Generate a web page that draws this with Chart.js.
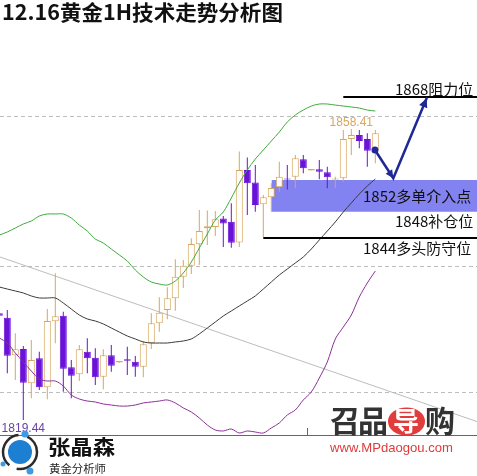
<!DOCTYPE html>
<html>
<head>
<meta charset="utf-8">
<script src="https://cdn.jsdelivr.net/npm/chart.js@4.4.0/dist/chart.umd.min.js"></script>
<style>
  body { margin: 0; background: #fff; }
  #wrap { position: relative; width: 477px; height: 476px; overflow: hidden; }
  #overlay { position: absolute; left: 0; top: 0; }
</style>
</head>
<body>
<div id="wrap">
  <canvas id="chart" width="477" height="476"></canvas>
  <svg id="overlay" width="477" height="476" xmlns="http://www.w3.org/2000/svg">
    <text x="2" y="20" font-family="Noto Sans CJK SC" font-weight="bold" font-size="21" fill="#111" textLength="281" lengthAdjust="spacingAndGlyphs">12.16黄金1H技术走势分析图</text>
    <!-- left logo -->
    <circle cx="20" cy="452" r="17" fill="none" stroke="#2b2b2b" stroke-width="2.5" stroke-dasharray="30 8 40 9"/>
    <circle cx="20" cy="452" r="12" fill="#1d7fd2"/>
    <circle cx="25" cy="434" r="3.5" fill="#3c9be4"/>
    <circle cx="30" cy="471" r="3.5" fill="#3c9be4"/>
    <circle cx="3" cy="464" r="2.5" fill="#3c9be4"/>
    <text x="48" y="455" font-family="Noto Sans CJK SC" font-weight="bold" font-size="20" fill="#111" textLength="67" lengthAdjust="spacingAndGlyphs">张晶森</text>
    <text x="49" y="473" font-family="Noto Sans CJK SC" font-size="11" fill="#222" textLength="57" lengthAdjust="spacingAndGlyphs">黄金分析师</text>
    <!-- right logo -->
    <ellipse cx="406.5" cy="421.5" rx="18.5" ry="14" fill="#e23b3b"/>
    <text x="330" y="432" font-family="Noto Sans CJK SC" font-weight="bold" font-size="30" fill="#333">召</text>
    <text x="358" y="432" font-family="Noto Sans CJK SC" font-weight="bold" font-size="30" fill="#333">品</text>
    <text x="393" y="431" font-family="Noto Sans CJK SC" font-weight="bold" font-size="26" fill="#fff">导</text>
    <text x="425" y="432" font-family="Noto Sans CJK SC" font-weight="bold" font-size="30" fill="#333">购</text>
    <text x="330" y="452" font-family="Liberation Sans, Arial" font-size="13" fill="#e03a3a" textLength="123" lengthAdjust="spacingAndGlyphs">www.MPdaogou.com</text>
  </svg>
</div>
<script>
// candle index (1 hour bars)
var idx = [0,1,2,3,4,5,6,7,8,9,10,11,12,13,14,15,16,17,18,19,20,21,22,23,24,25,26,27,28,29,30,31,32,33,34,35,36,37,38,39,40,41,42,43,44,45,46,47];

var opens  = [1833.73,1833.14,1828.10,1828.95,1824.35,1827.70,1823.82,1832.66,1833.41,1826.50,1825.56,1828.59,1827.78,1825.24,1828.10,1827.15,1827.57,1827.25,1826.58,1829.71,1832.39,1834.17,1835.74,1838.63,1840.10,1842.97,1845.11,1845.29,1846.42,1846.00,1843.21,1852.92,1851.25,1848.33,1849.26,1850.60,1851.78,1852.02,1854.35,1852.85,1853.01,1852.61,1851.65,1851.81,1857.07,1857.61,1857.07,1855.60];
var highs  = [1834.04,1834.17,1831.05,1829.35,1830.15,1828.59,1834.30,1839.09,1833.94,1827.47,1829.48,1830.38,1829.04,1828.91,1829.48,1827.35,1829.26,1828.01,1830.02,1833.73,1835.87,1837.21,1840.96,1840.87,1843.77,1847.56,1847.50,1847.43,1846.76,1848.46,1855.40,1854.59,1853.59,1849.57,1851.14,1854.03,1853.59,1854.93,1854.93,1853.05,1854.26,1853.36,1852.02,1858.28,1858.41,1858.28,1857.83,1858.28];
var lows   = [1833.10,1825.69,1824.80,1819.44,1822.35,1823.46,1822.21,1829.71,1823.23,1822.35,1824.66,1825.69,1824.13,1823.55,1825.91,1827.10,1825.47,1825.24,1825.16,1828.95,1831.26,1832.92,1834.08,1837.12,1838.99,1840.20,1842.88,1844.08,1842.61,1842.51,1842.61,1846.89,1847.33,1843.91,1847.33,1850.01,1850.31,1850.47,1852.48,1852.85,1851.67,1850.47,1850.55,1851.35,1854.93,1855.83,1853.36,1853.82];
var closes = [1833.41,1828.05,1828.91,1824.43,1827.47,1823.82,1832.70,1833.33,1826.31,1825.37,1828.91,1827.70,1825.16,1828.10,1826.71,1827.35,1827.38,1826.58,1829.58,1832.39,1833.81,1835.74,1838.63,1840.10,1843.01,1844.75,1845.38,1846.32,1845.75,1843.18,1852.92,1851.14,1848.23,1849.26,1850.51,1852.02,1851.65,1854.49,1853.15,1853.05,1852.69,1851.94,1851.78,1857.07,1857.61,1856.80,1855.50,1857.83];

// Bollinger bands
var bollUpper = [1844.21,1844.62,1845.15,1845.69,1846.09,1846.76,1847.03,1847.03,1847.03,1846.49,1845.55,1844.75,1843.68,1843.14,1842.34,1841.54,1840.73,1839.53,1838.59,1837.92,1837.65,1837.52,1838.05,1839.13,1840.60,1842.47,1844.35,1846.22,1847.30,1849.17,1851.18,1852.92,1854.39,1855.60,1856.80,1858.01,1859.35,1860.29,1860.95,1861.49,1861.76,1861.76,1861.62,1861.49,1861.36,1861.22,1860.95,1860.82];
var bollMid   = [1837.25,1836.98,1836.72,1836.45,1836.05,1835.78,1835.78,1835.78,1835.11,1834.30,1833.50,1832.97,1832.70,1832.30,1831.76,1831.22,1830.69,1830.29,1829.89,1829.75,1829.75,1829.75,1829.89,1830.02,1830.29,1830.96,1831.76,1832.56,1833.37,1834.04,1834.71,1835.38,1836.05,1836.98,1837.92,1838.86,1839.66,1840.47,1841.27,1842.34,1843.55,1844.75,1845.96,1847.30,1848.50,1849.71,1850.78,1851.71];
var bollLower = [1830.42,1829.75,1828.41,1827.21,1826.00,1824.93,1824.66,1824.66,1823.99,1822.79,1822.25,1821.98,1821.85,1821.58,1821.45,1821.31,1821.31,1821.45,1821.72,1821.85,1821.98,1822.12,1821.72,1821.05,1820.51,1819.71,1818.77,1818.10,1817.97,1818.23,1817.70,1817.97,1817.83,1817.70,1818.37,1819.04,1820.11,1820.78,1822.12,1823.19,1825.06,1827.21,1830.29,1831.89,1833.50,1835.91,1837.79,1839.39];

// drawn trend line (index, price)
var trendLine = [{x: 0.0875, y: 1841.27}, {x: 59.71, y: 1819.23}];

// analyst's marks
var refLevels = [1860.15, 1840.06, 1823.19];
var levelLines = [{from: 43, price: 1862.65}, {from: 33, price: 1843.80}];
var zone = {from: 34.05, top: 1851.58, bottom: 1847.33};
var levelLabels = [
  {text: '1868阻力位', x: 49.46, price: 1862.90},
  {text: '1852多单介入点', x: 45.46, price: 1848.57},
  {text: '1848补仓位', x: 49.46, price: 1845.35},
  {text: '1844多头防守位', x: 45.46, price: 1841.67}
];
var arrowPath = [{x: 46.96, y: 1855.60}, {x: 49.25, y: 1851.81}, {x: 53.42, y: 1862.52}];

var upColor = '#d6a65c';
var downColor = '#6a12d8';

function isUp(i){ return closes[i] >= opens[i]; }

function arrowHead(ctx, x0, y0, x1, y1, size){
  var ang = Math.atan2(y1 - y0, x1 - x0);
  ctx.beginPath();
  ctx.moveTo(x1, y1);
  ctx.lineTo(x1 - size*Math.cos(ang - 0.45), y1 - size*Math.sin(ang - 0.45));
  ctx.lineTo(x1 - size*Math.cos(ang + 0.45), y1 - size*Math.sin(ang + 0.45));
  ctx.closePath();
  ctx.fill();
}

var annotate = {
  id: 'annotate',
  beforeDatasetsDraw: function(chart){
    var ctx = chart.ctx, a = chart.chartArea, x = chart.scales.x, y = chart.scales.y;
    ctx.save();
    ctx.strokeStyle = '#bdbdbd';
    ctx.lineWidth = 1;
    ctx.setLineDash([4, 3]);
    refLevels.forEach(function(p){
      var py = Math.round(y.getPixelForValue(p)) + 0.5;
      ctx.beginPath(); ctx.moveTo(a.left, py); ctx.lineTo(a.right, py); ctx.stroke();
    });
    ctx.setLineDash([]);
    ctx.fillStyle = '#8282f0';
    var zx = x.getPixelForValue(zone.from);
    var zt = y.getPixelForValue(zone.top), zb = y.getPixelForValue(zone.bottom);
    ctx.fillRect(zx, zt, a.right - zx, zb - zt);
    ctx.restore();
  },
  afterDatasetsDraw: function(chart){
    var ctx = chart.ctx, a = chart.chartArea, x = chart.scales.x, y = chart.scales.y;
    ctx.save();
    // bottom axis
    ctx.strokeStyle = '#666';
    ctx.lineWidth = 1;
    ctx.beginPath(); ctx.moveTo(a.left, a.bottom + 0.5); ctx.lineTo(a.right, a.bottom + 0.5); ctx.stroke();
    var tx = Math.round(x.getPixelForValue(38.46)) + 0.5;
    ctx.beginPath(); ctx.moveTo(tx, a.bottom - 7); ctx.lineTo(tx, a.bottom); ctx.stroke();

    // level lines
    ctx.strokeStyle = '#000';
    ctx.lineWidth = 2;
    levelLines.forEach(function(l){
      var py = Math.round(y.getPixelForValue(l.price));
      ctx.beginPath(); ctx.moveTo(x.getPixelForValue(l.from), py); ctx.lineTo(a.right, py); ctx.stroke();
    });

    // labels
    ctx.fillStyle = '#111';
    ctx.font = '15px "Noto Sans CJK SC"';
    ctx.textBaseline = 'alphabetic';
    ctx.textAlign = 'left';
    levelLabels.forEach(function(l){
      ctx.fillText(l.text, x.getPixelForValue(l.x), y.getPixelForValue(l.price));
    });

    // high / low marks
    var hi = 0, lo = 0;
    idx.forEach(function(i){ if (highs[i] > highs[hi]) hi = i; if (lows[i] < lows[lo]) lo = i; });
    ctx.font = '12px "Liberation Sans", Arial';
    ctx.textAlign = 'center';
    ctx.fillStyle = '#dba55a';
    ctx.fillText(highs[hi].toFixed(2), x.getPixelForValue(hi), y.getPixelForValue(highs[hi]) - 3.5);
    ctx.fillStyle = '#6a40a8';
    ctx.fillText(lows[lo].toFixed(2), Math.max(23, x.getPixelForValue(lo)), y.getPixelForValue(lows[lo]) + 12.5);

    // forecast arrows
    var pts = arrowPath.map(function(p){ return {x: x.getPixelForValue(p.x), y: y.getPixelForValue(p.y)}; });
    ctx.strokeStyle = '#1e2896';
    ctx.fillStyle = '#1e2896';
    ctx.lineWidth = 2.5;
    ctx.lineCap = 'round';
    ctx.beginPath();
    ctx.moveTo(pts[0].x, pts[0].y);
    for (var k = 1; k < pts.length; k++) ctx.lineTo(pts[k].x, pts[k].y);
    ctx.stroke();
    ctx.beginPath(); ctx.arc(pts[0].x, pts[0].y, 3.5, 0, Math.PI*2); ctx.fill();
    arrowHead(ctx, pts[0].x, pts[0].y, pts[1].x, pts[1].y, 9);
    arrowHead(ctx, pts[1].x, pts[1].y, pts[2].x, pts[2].y, 10);
    ctx.restore();
  }
};

var ctx = document.getElementById('chart').getContext('2d');
var chart = new Chart(ctx, {
  type: 'bar',
  data: {
    datasets: [
      {
        type: 'line', data: idx.map(function(i){ return {x: i, y: bollUpper[i]}; }),
        borderColor: '#3fa83f', borderWidth: 1, pointRadius: 0, tension: 0.3, order: 1
      },
      {
        type: 'line', data: idx.map(function(i){ return {x: i, y: bollMid[i]}; }),
        borderColor: '#3a3a3a', borderWidth: 1, pointRadius: 0, tension: 0.3, order: 2
      },
      {
        type: 'line', data: idx.map(function(i){ return {x: i, y: bollLower[i]}; }),
        borderColor: '#8a3096', borderWidth: 1, pointRadius: 0, tension: 0.3, order: 3
      },
      {
        // candle bodies
        data: idx.map(function(i){ return {x: i, y: [opens[i], closes[i]]}; }),
        backgroundColor: idx.map(function(i){ return isUp(i) ? '#ffffff' : downColor; }),
        borderColor: idx.map(function(i){ return isUp(i) ? upColor : downColor; }),
        borderWidth: 1, borderSkipped: false, barThickness: 7, grouped: false, inflateAmount: 0, order: 4
      },
      {
        // wicks
        data: idx.map(function(i){ return {x: i, y: [lows[i], highs[i]]}; }),
        backgroundColor: idx.map(function(i){ return isUp(i) ? upColor : downColor; }),
        borderWidth: 0, barThickness: 1, grouped: false, inflateAmount: 0, order: 5
      },
      {
        type: 'line', data: trendLine,
        borderColor: '#bcbcbc', borderWidth: 1, pointRadius: 0, order: 6
      }
    ]
  },
  options: {
    responsive: false,
    animation: false,
    layout: { padding: { left: 0, right: 0, top: 0, bottom: 41 } },
    plugins: { legend: { display: false }, tooltip: { enabled: false } },
    scales: {
      x: { type: 'linear', display: false, offset: false, min: 0.0875, max: 59.7125 },
      y: { display: false, min: 1817.43, max: 1875.69 }
    }
  },
  plugins: [annotate]
});
</script>
</body>
</html>
